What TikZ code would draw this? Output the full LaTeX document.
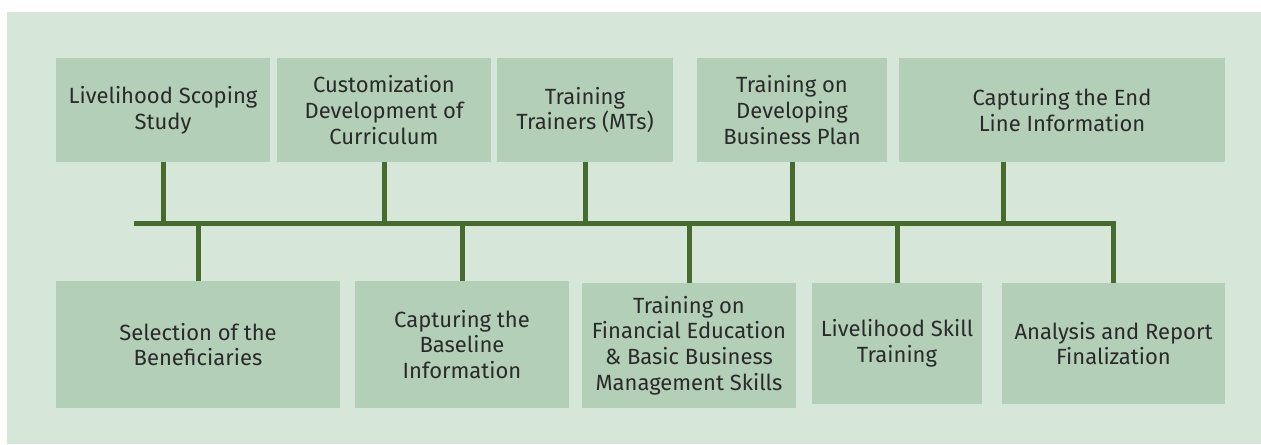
\documentclass[tikz,border=0pt]{standalone}
\usepackage{fontspec}
\setmainfont{Fira Sans}

\definecolor{panelgreen}{HTML}{D6E7D9}
\definecolor{boxgreen}{HTML}{B3CFB8}
\definecolor{linegreen}{HTML}{466B2D}
\definecolor{textgrey}{HTML}{2A2A2A}

\newcommand*{\barY}{223.5}

\begin{document}
\begin{tikzpicture}
[
	x=0.5pt, y=-0.5pt,
	stage/.style={fill=boxgreen,inner sep=0pt,align=center,text=textgrey,
		font=\fontsize{11}{12.8}\selectfont},
	link/.style={draw=linegreen,line width=2.5pt}
]

	% panel
	\useasboundingbox (0,0) rectangle (1261,444);
	\fill[panelgreen] (7,12) rectangle (1261,444);

	% upper row
	\node[stage,minimum width=107pt,minimum height=52pt] (scope) at (163,110) {Livelihood Scoping\\Study};
	\node[stage,minimum width=107pt,minimum height=52pt] (curric) at (384,110) {Customization\\Development of\\Curriculum};
	\node[stage,minimum width=88pt,minimum height=52pt] (tot) at (585,110) {Training\\Trainers (MTs)};
	\node[stage,minimum width=95pt,minimum height=52pt] (bizplan) at (792,110) {Training on\\Developing\\Business Plan};
	\node[stage,minimum width=163pt,minimum height=52pt] (endline) at (1062,110) {Capturing the End\\Line Information};

	% lower row
	\node[stage,minimum width=142pt,minimum height=63.5pt] (select) at (198,344.5) {Selection of the\\Beneficiaries};
	\node[stage,minimum width=107pt,minimum height=63.5pt] (baseline) at (462,344.5) {Capturing the\\Baseline\\Information};
	\node[stage,minimum width=107pt,minimum height=62.5pt] (fined) at (689,345.5) {Training on\\Financial Education\\\& Basic Business\\Management Skills};
	\node[stage,minimum width=85pt,minimum height=60.5pt] (skill) at (897,343.5) {Livelihood Skill\\Training};
	\node[stage,minimum width=111.5pt,minimum height=60.5pt] (report) at (1113.5,343.5) {Analysis and Report\\Finalization};

	% spine
	\coordinate (spine) at (134,\barY);
	\coordinate (endstem) at ([xshift=-29.5pt]endline.south);
	\draw[link] (spine) -- (spine -| report.north) -- (report.north);

	% stems
	\foreach \n in {scope,curric,tot,bizplan}
		\draw[link] (\n.south) -- (\n.south |- spine);
	\draw[link] (endstem) -- (endstem |- spine);
	\foreach \n in {select,baseline,fined,skill}
		\draw[link] (\n.north |- spine) -- (\n.north);

\end{tikzpicture}
\end{document}
